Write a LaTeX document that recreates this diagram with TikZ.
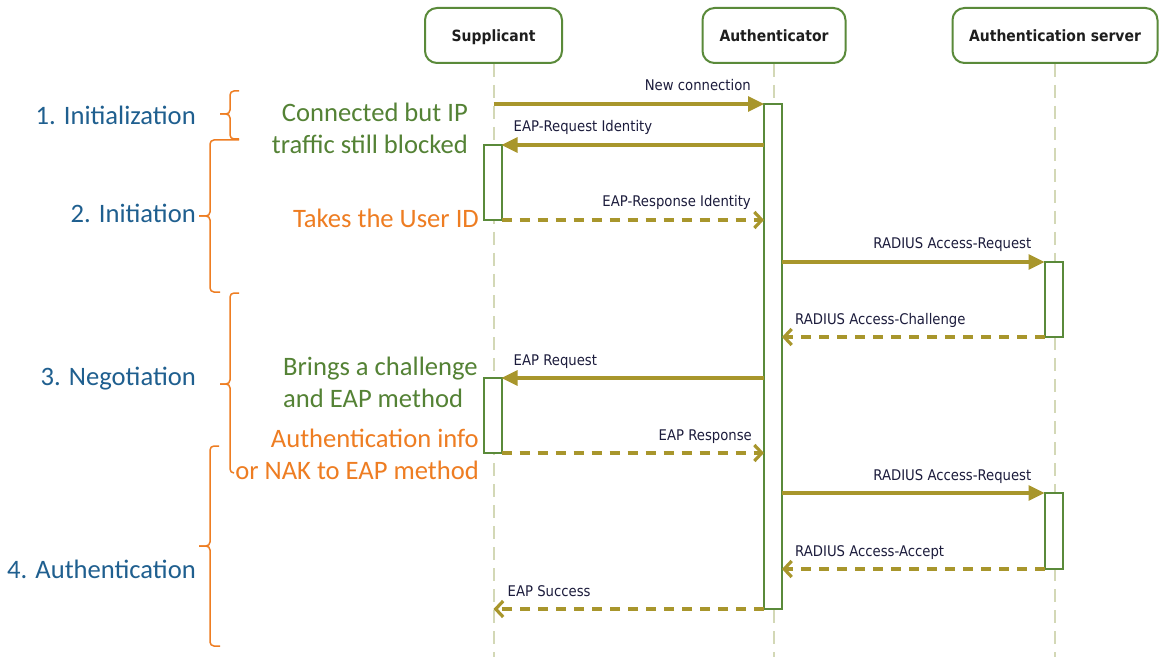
\documentclass[tikz,border=0pt]{standalone}
\usepackage{fontspec}
\usetikzlibrary{arrows.meta,calc}
\newfontfamily\calib{Carlito}
\newfontfamily\tah[FakeStretch=0.9]{DejaVu Sans}
\definecolor{boxgreen}{HTML}{5A8A3A}
\definecolor{arrowol}{HTML}{A8962C}
\definecolor{lifecol}{HTML}{D3D8B6}
\definecolor{phaseblue}{HTML}{1F5F8F}
\definecolor{notegreen}{HTML}{548235}
\definecolor{noteorange}{HTML}{EE7D22}
\definecolor{lblcol}{HTML}{1C1C3C}
\definecolor{hdrcol}{HTML}{1E1E1E}
\begin{document}
\begin{tikzpicture}[x=1pt,y=-1pt,
  hdr/.style={draw=boxgreen, line width=2pt, rounded corners=12pt, fill=white,
    minimum height=55pt, inner sep=0pt, text height=15.5pt, text depth=2.5pt,
    font=\tah\bfseries\fontsize{15.5}{18}\selectfont, text=hdrcol},
  life/.style={draw=lifecol, line width=2pt, dash pattern=on 13pt off 8pt},
  act/.style={draw=boxgreen, line width=2pt, fill=white, minimum width=18pt, inner sep=0pt, outer sep=0pt},
  msgline/.style={draw=arrowol, line width=3.2pt},
  callarrow/.style={msgline, -{Triangle[length=16pt,width=15pt]}},
  replyarrow/.style={msgline, dash pattern=on 10pt off 8pt, -{Straight Barb[length=7.5pt,width=16pt]}},
  lbl/.style={font=\tah\fontsize{14.7}{17}\selectfont, text=lblcol, inner sep=0pt},
  phase/.style={font=\calib\fontsize{26.6}{31}\selectfont, text=phaseblue, inner sep=0pt, anchor=base east},
  gnote/.style={font=\calib\fontsize{26.6}{31}\selectfont, text=notegreen, inner sep=0pt},
  onote/.style={font=\calib\fontsize{26.6}{31}\selectfont, text=noteorange, inner sep=0pt},
  bracepath/.style={draw=noteorange, line width=1.5pt, rounded corners=4pt}
]
\useasboundingbox[fill=white] (0,0) rectangle (1172,668);

% headers
\node[hdr, minimum width=137pt] (sup) at (493.5,35.5) {Supplicant};
\node[hdr, minimum width=143pt] (aut) at (774,35.5) {Authenticator};
\node[hdr, minimum width=205pt] (srv) at (1055,35.5) {Authentication server};

% lifelines
\coordinate (bot) at (0,657);
\draw[life] (sup) -- (sup |- bot);
\draw[life] (aut) -- (aut |- bot);
\draw[life] (srv) -- (srv |- bot);

% activations
\node[act, minimum height=505pt] (aA) at (773,356.5) {};
\node[act, minimum height=75pt] (sA1) at (492.5,182.5) {};
\node[act, minimum height=75pt] (sA2) at (492.5,415.5) {};
\node[act, minimum height=75pt] (vA1) at (1053.5,299.5) {};
\node[act, minimum height=76pt] (vA2) at (1053.5,531) {};

% messages
\draw[callarrow] (sup |- aA.north) -- (aA.north west);
\node[lbl, anchor=base east] (l1) at ($(aA.north west)+(-13,-13)$) {New connection};

\draw[callarrow] (aA.west |- sA1.north east) -- (sA1.north east);
\node[lbl, anchor=base west] (l2) at ($(sA1.north east)+(12,-13)$) {EAP-Request Identity};

\draw[replyarrow] (sA1.south east) -- (aA.west |- sA1.south east);
\node[lbl, anchor=base east] (l3) at ($(aA.west |- sA1.south east)+(-13,-13)$) {EAP-Response Identity};

\draw[callarrow] (aA.east |- vA1.north west) -- (vA1.north west);
\node[lbl, anchor=base east] (l4) at ($(vA1.north west)+(-13,-13)$) {RADIUS Access-Request};

\draw[replyarrow] (vA1.south west) -- (aA.east |- vA1.south west);
\node[lbl, anchor=base west] (l5) at ($(aA.east |- vA1.south west)+(13,-13)$) {RADIUS Access-Challenge};

\draw[callarrow] (aA.west |- sA2.north east) -- (sA2.north east);
\node[lbl, anchor=base west] (l6) at ($(sA2.north east)+(12,-13)$) {EAP Request};

\draw[replyarrow] (sA2.south east) -- (aA.west |- sA2.south east);
\node[lbl, anchor=base east] (l7) at ($(aA.west |- sA2.south east)+(-12,-13)$) {EAP Response};

\draw[callarrow] (aA.east |- vA2.north west) -- (vA2.north west);
\node[lbl, anchor=base east] (l8) at ($(vA2.north west)+(-13,-13)$) {RADIUS Access-Request};

\draw[replyarrow] (vA2.south west) -- (aA.east |- vA2.south west);
\node[lbl, anchor=base west] (l9) at ($(aA.east |- vA2.south west)+(13,-13)$) {RADIUS Access-Accept};

\coordinate (supend) at (sup |- aA.south);
\draw[replyarrow] (aA.south west) -- (supend);
\node[lbl, anchor=base west] (l10) at ($(supend)+(14,-13)$) {EAP Success};

% phase labels
\node[phase] (p1) at (196,125) {1. Initialization};
\node[phase] (p2) at (196,223) {2. Initiation};
\node[phase] (p3) at (196,385) {3. Negotiation};
\node[phase] (p4) at (196,578) {4. Authentication};

% braces
\draw[bracepath] (239,91) -- (230,91) -- (230,114) -- (220,114);
\draw[bracepath] (239,139) -- (230,139) -- (230,114) -- (220,114);
\draw[bracepath] (239,140) -- (210,140) -- (210,216) -- (199,216);
\draw[bracepath] (220,292) -- (210,292) -- (210,216) -- (199,216);
\draw[bracepath] (239,293) -- (230,293) -- (230,384) -- (220,384);
\draw[bracepath] (234,473) -- (230,473) -- (230,384) -- (220,384);
\draw[bracepath] (219,446) -- (210,446) -- (210,546) -- (199,546);
\draw[bracepath] (220,646) -- (210,646) -- (210,546) -- (199,546);

% notes
\node[gnote, anchor=base east] (n1) at (468,122) {Connected but IP};
\node[gnote, anchor=base east] (n2) at (468,154) {traffic still blocked};
\node[onote, anchor=base east] (n3) at (479,228) {Takes the User ID};
\node[gnote, anchor=base west] (n4) at (283,375) {Brings a challenge};
\node[gnote, anchor=base west] (n5) at (283,407) {and EAP method};
\node[onote, anchor=base east] (n6) at (479,447) {Authentication info};
\node[onote, anchor=base east] (n7) at (479,479) {or NAK to EAP method};
\end{tikzpicture}
\end{document}
